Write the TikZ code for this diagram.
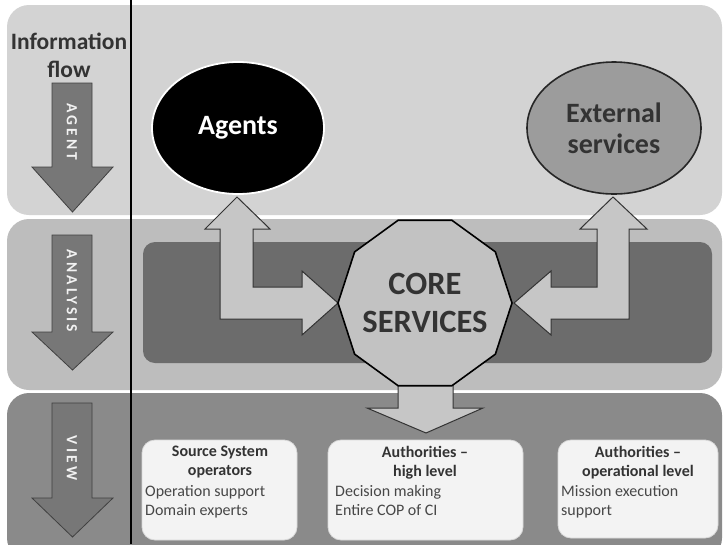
\documentclass[tikz,border=0pt]{standalone}
\usepackage{fontspec}
\setmainfont{Carlito}
\usetikzlibrary{shapes.geometric}
\definecolor{bandA}{HTML}{D3D3D3}
\definecolor{bandB}{HTML}{BDBDBD}
\definecolor{bandC}{HTML}{8A8A8A}
\definecolor{innerR}{HTML}{6C6C6C}
\definecolor{flowarr}{HTML}{777777}
\definecolor{blockarr}{HTML}{C6C6C6}
\definecolor{coreF}{HTML}{C2C2C2}
\definecolor{extF}{HTML}{9C9C9C}
\definecolor{txtD}{HTML}{333333}
\definecolor{boxF}{HTML}{F3F3F3}
\tikzset{
  band/.style={rounded corners=22pt},
  flowarrow/.style={fill=flowarr, draw=black!75, line width=0.8pt},
  blockarrow/.style={fill=blockarr, draw=black!80, line width=1pt, line join=miter},
  flowtext/.style={text=white!95!black, font=\bfseries\fontsize{15.5}{15.5}\selectfont\addfontfeatures{LetterSpace=20}, rotate=-90},
  infobox/.style={fill=boxF, draw=black!15, line width=0.8pt, rounded corners=13pt},
  boxtitle/.style={font=\bfseries\fontsize{16}{19}\selectfont, text=txtD, align=center, inner sep=0pt, anchor=north},
  boxbody/.style={font=\fontsize{16}{19.5}\selectfont, text=black!72, align=left, inner sep=0pt, anchor=north west},
}
\begin{document}
\begin{tikzpicture}[x=1pt,y=-1pt]
\useasboundingbox (0,0) rectangle (723,544);
\fill[white] (0,0) rectangle (723,544);
% bands
\fill[bandA, band] (7,5) rectangle (722,215);
\fill[bandB, band] (7,219) rectangle (722,390);
\fill[innerR, rounded corners=12pt] (143,242) rectangle (712,363);
\fill[bandC, band] (7,393) rectangle (722,560);
% divider
\draw[black, line width=1.6pt] (131,0) -- (131,544);
% information flow
\node[font=\bfseries\fontsize{23.5}{28}\selectfont, text=txtD, align=center] (info) at (69,55) {Information\\flow};
% left arrows
\draw[flowarrow] (52,83) -- (92,83) -- (92,167) -- (113,167) -- (72.5,212) -- (32,167) -- (52,167) -- cycle;
\node[flowtext] (agentlbl) at (72,132) {AGENT};
\draw[flowarrow] (52,235) -- (92,235) -- (92,332) -- (113,332) -- (72.5,370) -- (32,332) -- (52,332) -- cycle;
\node[flowtext] (analysislbl) at (72,291) {ANALYSIS};
\draw[flowarrow] (52,403) -- (92,403) -- (92,498) -- (113,498) -- (72.5,537) -- (32,498) -- (52,498) -- cycle;
\node[flowtext] (viewlbl) at (72,458) {VIEW};
% nodes
\node[ellipse, fill=black, draw=white, line width=1.8pt, minimum width=172pt, minimum height=132pt, text=white, font=\bfseries\fontsize{28}{28}\selectfont] (agents) at (238,128) {Agents};
\node[ellipse, fill=extF, draw=black!85, line width=1.6pt, minimum width=174pt, minimum height=132pt, text=txtD, align=center, font=\bfseries\fontsize{28}{31}\selectfont] (ext) at (614,128) {External\\services};
% block arrows
\draw[blockarrow] (237,197) -- (270,229) -- (253,229) -- (253,287) -- (302,287) -- (302,271) -- (338,303) -- (302,335) -- (302,319) -- (220,319) -- (220,229) -- (205,229) -- cycle;
\draw[blockarrow] (613,197) -- (647,229) -- (629,229) -- (629,319) -- (551,319) -- (551,335) -- (514,303) -- (551,271) -- (551,287) -- (597,287) -- (597,229) -- (580,229) -- cycle;
\draw[blockarrow] (398,380) -- (453,380) -- (453,408) -- (483,408) -- (426,433) -- (367,408) -- (398,408) -- cycle;
\node[regular polygon, regular polygon sides=10, minimum size=174pt, inner sep=0pt, fill=coreF, draw=black, line width=1.6pt] (core) at (425,303) {};
\node[font=\bfseries\fontsize{32.5}{38}\selectfont, text=txtD, align=center] (coretext) at (core.center) {CORE\\SERVICES};
% boxes
\draw[infobox] (142,440) rectangle (297,540);
\node[boxtitle] (b1t) at (220,446) {Source System\\operators};
\node[boxbody] (b1b) at (145,485) {Operation support\\Domain experts};
\draw[infobox] (328,440) rectangle (523,540);
\node[boxtitle] (b2t) at (425,446) {Authorities –\\high level};
\node[boxbody] (b2b) at (335,485) {Decision making\\Entire COP of CI};
\draw[infobox] (558,440) rectangle (718,538);
\node[boxtitle] (b3t) at (638,446) {Authorities –\\operational level};
\node[boxbody] (b3b) at (561,485) {Mission execution\\support};
\end{tikzpicture}
\end{document}
